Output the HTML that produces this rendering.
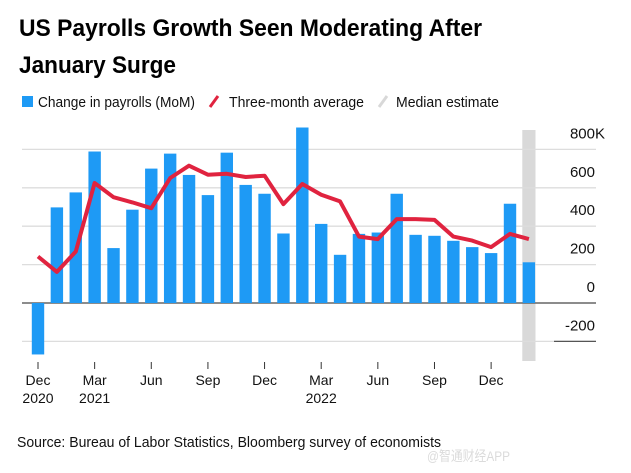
<!DOCTYPE html>
<html><head><meta charset="utf-8"><style>
html,body{margin:0;padding:0;background:#fff;}
svg{display:block;font-family:"Liberation Sans",Arial,sans-serif;}
</style></head><body>
<svg id="chart" width="631" height="473" viewBox="0 0 631 473">
<text x="19" y="36" font-size="24" font-weight="bold" fill="#000" textLength="463" lengthAdjust="spacingAndGlyphs">US Payrolls Growth Seen Moderating After</text>
<text x="19" y="73" font-size="24" font-weight="bold" fill="#000" textLength="157" lengthAdjust="spacingAndGlyphs">January Surge</text>
<g>
<rect x="22" y="96" width="11" height="11" fill="#1e9af5"/>
<text x="38" y="107" font-size="15" fill="#111" textLength="157" lengthAdjust="spacingAndGlyphs">Change in payrolls (MoM)</text>
<line x1="210" y1="107" x2="218" y2="96" stroke="#e0233f" stroke-width="3"/>
<text x="229" y="107" font-size="15" fill="#111" textLength="135" lengthAdjust="spacingAndGlyphs">Three-month average</text>
<line x1="379" y1="107" x2="387" y2="96" stroke="#d8d8d8" stroke-width="3"/>
<text x="396" y="107" font-size="15" fill="#111" textLength="103" lengthAdjust="spacingAndGlyphs">Median estimate</text>
</g>
<g id="grid"></g>
<g id="bars"></g>
<g id="line"></g>
<g id="axes"></g>
<text x="17" y="447" font-size="15" fill="#111" textLength="424" lengthAdjust="spacingAndGlyphs">Source: Bureau of Labor Statistics, Bloomberg survey of economists</text>
<text x="427" y="461" font-size="14" fill="#ccc" fill-opacity="0.7" textLength="83" lengthAdjust="spacingAndGlyphs">@智通财经APP</text>
</svg>
<script>
const months = ["Dec20","Jan21","Feb21","Mar21","Apr21","May21","Jun21","Jul21","Aug21","Sep21","Oct21","Nov21","Dec21","Jan22","Feb22","Mar22","Apr22","May22","Jun22","Jul22","Aug22","Sep22","Oct22","Nov22","Dec22","Jan23","Feb23"];
const payrolls = [-268,498,576,789,286,486,700,778,667,562,783,615,569,362,914,412,251,360,367,569,355,350,324,291,260,517,212];
const avg3 = [242,162,268,625,551,524,494,651,715,668,673,656,663,515,620,564,529,346,333,437,437,433,346,325,291,360,333];
const yTicks = [800,600,400,200,0,-200];
const yTickLabels = ["800","600","400","200","0","-200"];
const yUnit = "K";
const xTickIdx = [0,3,6,9,12,15,18,21,24];
const xTickLabels = ["Dec","Mar","Jun","Sep","Dec","Mar","Jun","Sep","Dec"];
const xYearLabels = ["2020","2021","","","","2022","","",""];
const medianIdx = 26;

const NS="http://www.w3.org/2000/svg";
const y0=303, pxPer=38.4/200;
const yScale=v=>y0-v*pxPer;
const xScale=i=>38+i*18.88;
const bw=12.4;
function mk(tag,attrs,parent){const e=document.createElementNS(NS,tag);for(const k in attrs)e.setAttribute(k,attrs[k]);parent.appendChild(e);return e;}
const grid=document.getElementById('grid'),bars=document.getElementById('bars'),line=document.getElementById('line'),axes=document.getElementById('axes');

const band=mk('rect',{x:xScale(medianIdx)-6.6,y:130,width:13.2,height:231,fill:'#d9d9d9'},grid);



yTicks.forEach((v,i)=>{
  const y=yScale(v);
  const g=mk('line',{x1:22,x2:596,y1:y,y2:y,stroke:v===0?'#666':'#ddd','stroke-width':v===0?1.5:1.3},grid);
  
  
  if(v===-200){const d=mk('line',{x1:554,x2:596,y1:y,y2:y,stroke:'#555','stroke-width':1.3},grid);
    
    }
  const t=mk('text',{x:595,y:y-11,'font-size':15,fill:'#111','text-anchor':'end'},axes);
  t.textContent=yTickLabels[i];
  
  
  if(i===0){
    const u=mk('text',{x:595,y:y-11,'font-size':15,fill:'#111'},axes);
    u.textContent=yUnit;
    
    
  }
});

payrolls.forEach((v,i)=>{
  const cx=xScale(i);
  const top=Math.min(yScale(v),y0),h=Math.abs(yScale(v)-y0);
  const r=mk('rect',{x:cx-bw/2,y:top,width:bw,height:h,fill:'#1e9af5'},bars);
  
  
});

const pts=avg3.map((v,i)=>xScale(i).toFixed(1)+','+yScale(v).toFixed(1)).join(' ');
const pl=mk('polyline',{points:pts,fill:'none',stroke:'#e0233f','stroke-width':4,'stroke-linejoin':'round','stroke-linecap':'butt'},line);



xTickIdx.forEach((idx,i)=>{
  const x=xScale(idx);
  const tk=mk('line',{x1:x,x2:x,y1:362,y2:369,stroke:'#333','stroke-width':1},axes);
  
  
  const t=mk('text',{x:x,y:385,'font-size':14,fill:'#111','text-anchor':'middle'},axes);
  t.textContent=xTickLabels[i];
  
  
  if(xYearLabels[i]){
    const ty=mk('text',{x:x,y:403,'font-size':14,fill:'#111','text-anchor':'middle'},axes);
    ty.textContent=xYearLabels[i];
    
    
  }
});
</script>
</body></html>
